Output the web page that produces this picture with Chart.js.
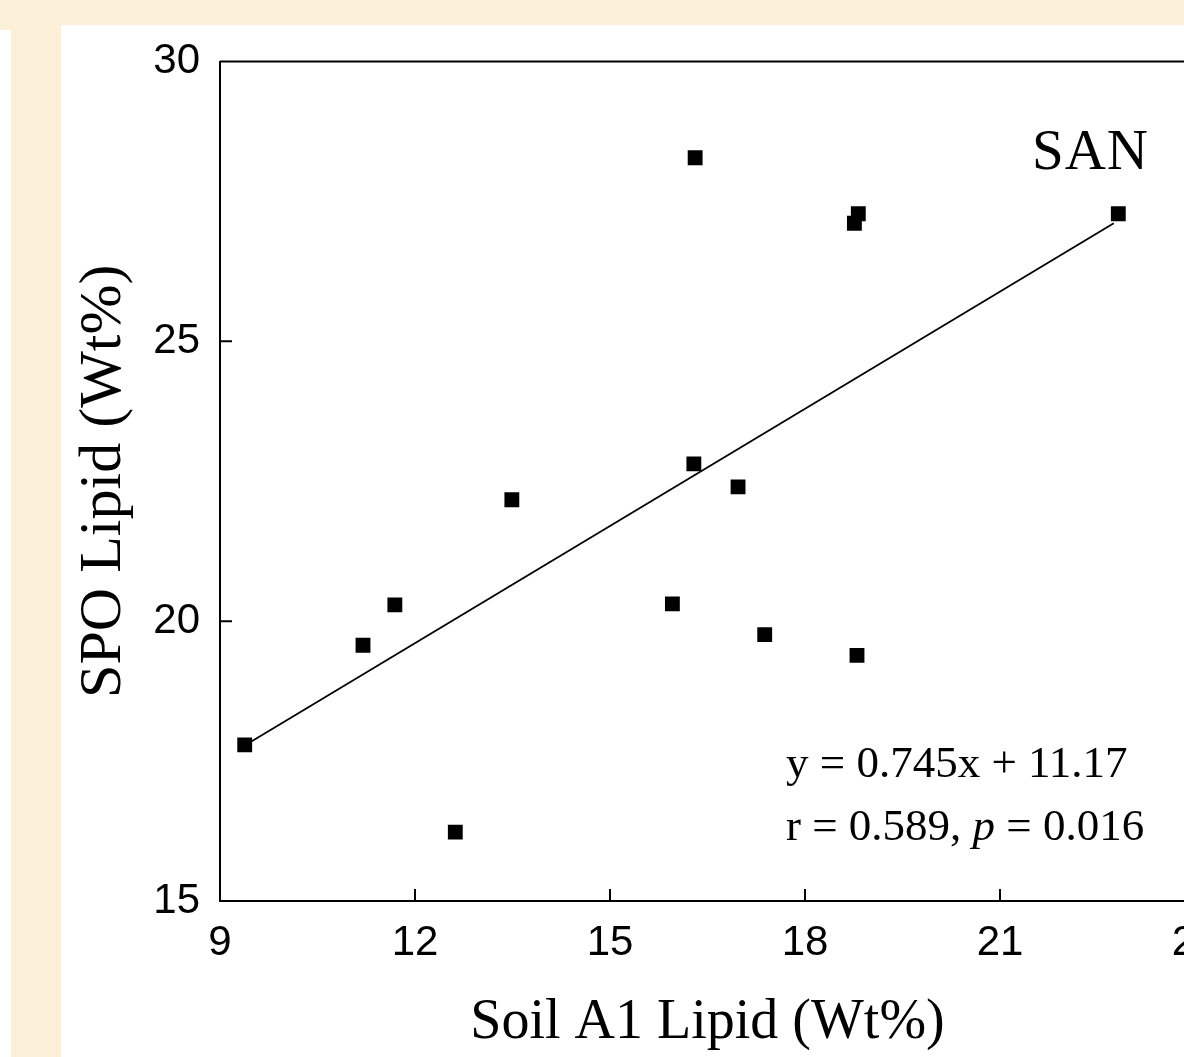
<!DOCTYPE html>
<html>
<head>
<meta charset="utf-8">
<script src="https://cdn.jsdelivr.net/npm/chart.js@4"></script>
<style>
  html, body { margin: 0; padding: 0; }
  body { width: 1184px; height: 1057px; overflow: hidden; position: relative; background: #fcf0d8; }
  .sheet { position: absolute; background: #fff; }
  #chart { position: absolute; left: 0; top: 0; }
</style>
</head>
<body>
<div class="sheet" style="left:0;top:30px;width:11px;height:1027px"></div>
<div class="sheet" style="left:61px;top:25px;width:1123px;height:1032px"></div>
<canvas id="chart" width="1260" height="1057" style="width:1260px;height:1057px"></canvas>
<script>
'use strict';

// values
var soilA1 = [9.38, 11.20, 11.69, 12.62, 13.49, 15.96, 16.31, 16.29, 16.97, 17.38, 18.76, 18.82, 18.80, 22.82];
var spoLipid = [17.79, 19.57, 20.29, 16.23, 22.17, 20.31, 28.28, 22.81, 22.40, 19.76, 27.11, 27.28, 19.39, 27.28];
var fitX = [9.38, 22.75];
var fitY = [17.78, 27.11];
var xTicks = [9, 12, 15, 18, 21, 24];
var yTicks = [15, 20, 25, 30];

var points = soilA1.map(function (x, i) { return { x: x, y: spoLipid[i] }; });
var fitLine = fitX.map(function (x, i) { return { x: x, y: fitY[i] }; });

var frame = {
  id: 'frame',
  beforeDatasetsDraw: function (chart) {
    var c = chart.ctx, a = chart.chartArea;
    var sx = chart.scales.x, sy = chart.scales.y;
    c.save();
    c.strokeStyle = '#000';
    c.lineWidth = 2;
    c.beginPath();
    c.moveTo(a.left, a.top); c.lineTo(a.right, a.top); c.lineTo(a.right, a.bottom);
    // inward ticks
    xTicks.slice(1, -1).forEach(function (v) {
      var px = sx.getPixelForValue(v);
      c.moveTo(px, a.bottom); c.lineTo(px, a.bottom - 12);
    });
    yTicks.slice(1, -1).forEach(function (v) {
      var py = sy.getPixelForValue(v);
      c.moveTo(a.left, py); c.lineTo(a.left + 12, py);
    });
    c.stroke();
    c.restore();
  },
  afterDraw: function (chart) {
    var c = chart.ctx, a = chart.chartArea;
    c.save();
    c.fillStyle = '#000';
    c.textBaseline = 'alphabetic';
    c.textAlign = 'left';
    c.font = '57px "Liberation Serif"';
    c.letterSpacing = '1px';
    c.fillText('SAN', a.left + 812, a.top + 107);
    c.letterSpacing = '0px';
    c.font = '45px "Liberation Serif"';
    var x0 = a.left + 566;
    c.fillText('y = 0.745x + 11.17', x0, a.top + 715);
    var y2 = a.top + 778;
    var s1 = 'r = 0.589, ';
    c.fillText(s1, x0, y2);
    var w = c.measureText(s1).width;
    c.font = 'italic 45px "Liberation Serif"';
    c.fillText('p', x0 + w, y2);
    w += c.measureText('p').width;
    c.font = '45px "Liberation Serif"';
    c.fillText(' = 0.016', x0 + w, y2);
    c.restore();
  }
};

new Chart(document.getElementById('chart'), {
  type: 'scatter',
  data: {
    datasets: [
      {
        label: 'SAN',
        data: points,
        pointStyle: 'rect',
        pointRadius: 10.5,
        pointHoverRadius: 10.5,
        pointBorderWidth: 0,
        backgroundColor: '#000',
        borderColor: '#000'
      },
      {
        type: 'line',
        label: 'fit',
        data: fitLine,
        borderColor: '#000',
        borderWidth: 1.8,
        pointRadius: 0,
        fill: false
      }
    ]
  },
  options: {
    responsive: false,
    animation: false,
    devicePixelRatio: 1,
    layout: { padding: { top: 61.5, right: 65, left: 0, bottom: 0 } },
    plugins: { legend: { display: false }, tooltip: { enabled: false } },
    scales: {
      x: {
        type: 'linear',
        min: 9,
        max: 24,
        afterBuildTicks: function (s) { s.ticks = xTicks.map(function (v) { return { value: v }; }); },
        afterFit: function (s) { s.height = 156; },
        grid: { display: false, drawTicks: false },
        border: { display: true, color: '#000', width: 2 },
        ticks: { color: '#000', padding: 17, maxRotation: 0, font: { family: 'Liberation Sans', size: 42 } },
        title: {
          display: true,
          text: 'Soil A1 Lipid (Wt%)',
          color: '#000',
          padding: { top: 0, bottom: 0 },
          font: { family: 'Liberation Serif', size: 56 }
        }
      },
      y: {
        type: 'linear',
        min: 15,
        max: 30,
        afterBuildTicks: function (s) { s.ticks = yTicks.map(function (v) { return { value: v }; }); },
        afterFit: function (s) { s.width = 220; },
        grid: { display: false, drawTicks: false },
        border: { display: true, color: '#000', width: 2 },
        ticks: { color: '#000', padding: 20, font: { family: 'Liberation Sans', size: 42 } },
        title: {
          display: true,
          text: 'SPO Lipid (Wt%)',
          color: '#000',
          padding: { top: 68, bottom: 0 },
          font: { family: 'Liberation Serif', size: 60 }
        }
      }
    }
  },
  plugins: [frame]
});
</script>
</body>
</html>
